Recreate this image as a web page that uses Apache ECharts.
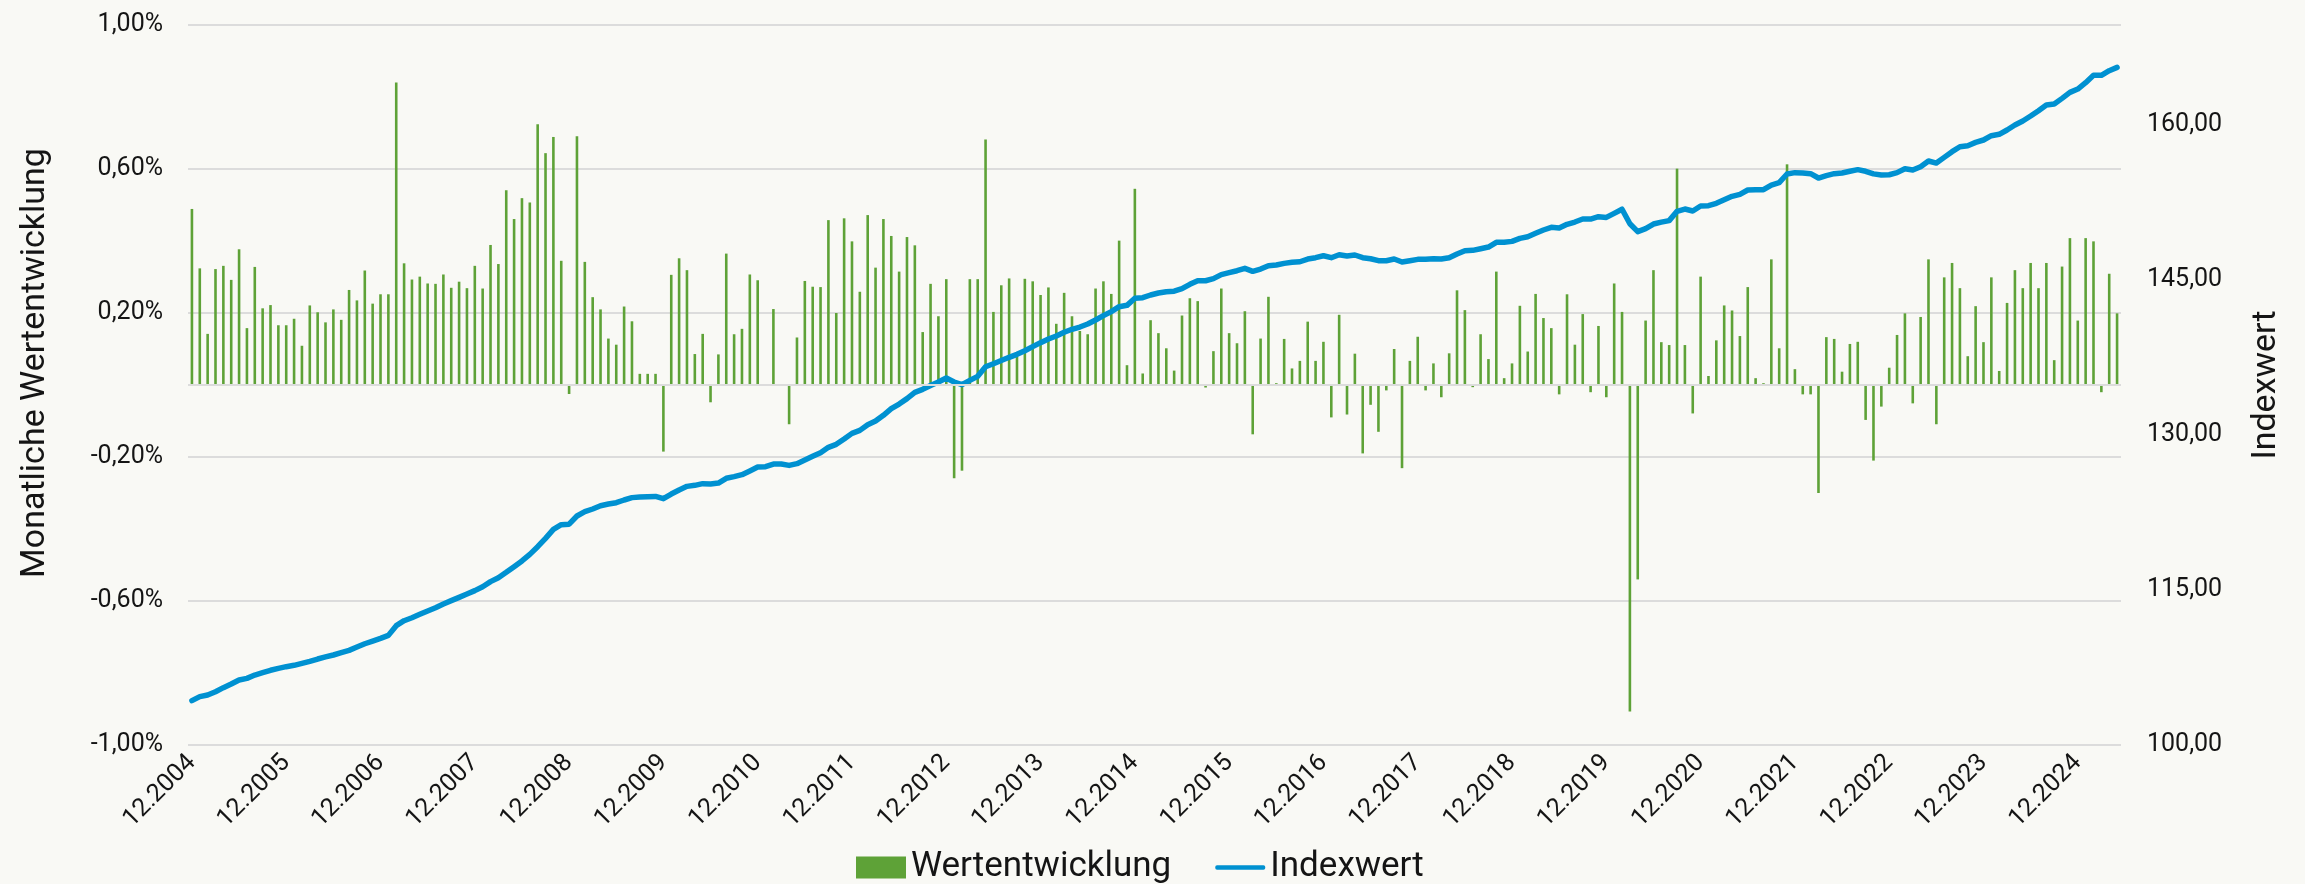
<!DOCTYPE html>
<html>
<head>
<meta charset="utf-8">
<script src="https://cdn.jsdelivr.net/npm/echarts@6/dist/echarts.min.js"></script>
<style>
html,body{margin:0;padding:0;background:#f9f9f5;}
#chart{width:2305px;height:884px;}
</style>
</head>
<body>
<div id="chart"></div>
<script>
// Monthly change in % (bars), Dec 2004 .. May 2025
const monthlyChange = [
0.489,0.324,0.142,0.322,0.331,0.292,0.377,0.158,0.328,0.213,0.222,0.166,
0.166,0.184,0.109,0.221,0.202,0.174,0.210,0.181,0.264,0.235,0.318,0.226,
0.252,0.252,0.840,0.338,0.293,0.301,0.282,0.281,0.307,0.270,0.287,0.269,
0.331,0.268,0.389,0.336,0.541,0.461,0.519,0.507,0.724,0.644,0.689,0.345,
-0.025,0.691,0.342,0.244,0.210,0.129,0.112,0.218,0.177,0.031,0.031,0.031,
-0.185,0.306,0.352,0.319,0.086,0.142,-0.048,0.085,0.365,0.141,0.156,0.307,
0.291,0,0.211,0,-0.109,0.132,0.289,0.273,0.272,0.458,0.200,0.463,
0.399,0.259,0.472,0.326,0.461,0.414,0.315,0.411,0.388,0.147,0.281,0.191,
0.294,-0.259,-0.238,0.294,0.294,0.682,0.203,0.277,0.296,0.080,0.295,0.288,
0.250,0.271,0.170,0.256,0.191,0.150,0.141,0.268,0.288,0.253,0.401,0.055,
0.545,0.032,0.180,0.144,0.102,0.040,0.193,0.241,0.233,-0.007,0.094,0.268,
0.144,0.116,0.205,-0.137,0.129,0.245,0.005,0.128,0.046,0.067,0.176,0.067,
0.120,-0.090,0.195,-0.082,0.087,-0.190,-0.055,-0.130,-0.015,0.100,-0.231,0.067,
0.134,-0.015,0.060,-0.034,0.088,0.263,0.208,-0.006,0.141,0.072,0.315,0.019,
0.060,0.220,0.093,0.253,0.186,0.158,-0.026,0.252,0.112,0.197,-0.020,0.164,
-0.034,0.282,0.203,-0.907,-0.540,0.179,0.319,0.119,0.111,0.601,0.111,-0.079,
0.301,0.025,0.124,0.221,0.207,0.136,0.272,0.019,0.005,0.349,0.102,0.613,
0.044,-0.026,-0.026,-0.300,0.133,0.128,0.037,0.114,0.120,-0.097,-0.210,-0.060,
0.048,0.139,0.199,-0.051,0.189,0.349,-0.109,0.299,0.339,0.269,0.080,0.219,
0.119,0.299,0.039,0.228,0.319,0.269,0.339,0.269,0.339,0.069,0.329,0.408,
0.179,0.408,0.399,-0.020,0.309,0.199
];

// Index value (line)
const indexValue = [
104.29,104.68,104.84,105.16,105.55,105.90,106.29,106.45,106.77,107.00,
107.23,107.42,107.58,107.71,107.90,108.10,108.32,108.52,108.71,108.94,
109.16,109.48,109.80,110.06,110.32,110.61,111.55,112.03,112.32,112.65,
112.97,113.29,113.65,113.97,114.29,114.61,114.94,115.32,115.81,116.19,
116.71,117.26,117.81,118.45,119.19,120.00,120.87,121.32,121.37,122.16,
122.58,122.84,123.16,123.32,123.45,123.71,123.94,124.00,124.03,124.06,
123.84,124.29,124.68,125.03,125.13,125.29,125.26,125.35,125.81,125.97,
126.16,126.52,126.90,126.94,127.19,127.19,127.06,127.23,127.58,127.94,
128.29,128.81,129.10,129.61,130.16,130.45,131.00,131.35,131.91,132.55,
133.00,133.52,134.13,134.42,134.79,135.13,135.52,135.13,134.87,135.28,
135.68,136.61,136.90,137.21,137.52,137.81,138.16,138.55,138.94,139.29,
139.58,139.94,140.23,140.45,140.74,141.13,141.55,141.94,142.42,142.55,
143.23,143.29,143.55,143.74,143.87,143.92,144.16,144.58,144.93,144.93,
145.13,145.52,145.71,145.90,146.13,145.84,146.06,146.39,146.45,146.61,
146.71,146.77,147.03,147.16,147.35,147.16,147.45,147.32,147.42,147.16,
147.06,146.87,146.87,147.03,146.74,146.87,147.00,147.00,147.06,147.03,
147.16,147.52,147.84,147.87,148.03,148.19,148.65,148.65,148.74,149.03,
149.19,149.52,149.84,150.10,150.03,150.39,150.61,150.90,150.90,151.13,
151.06,151.45,151.85,150.45,149.68,149.97,150.42,150.60,150.75,151.65,
151.87,151.68,152.16,152.19,152.42,152.77,153.10,153.29,153.71,153.74,
153.74,154.19,154.42,155.26,155.39,155.36,155.29,154.87,155.10,155.29,
155.36,155.52,155.68,155.52,155.27,155.16,155.19,155.39,155.77,155.65,
155.97,156.52,156.32,156.87,157.42,157.90,158.00,158.32,158.55,158.97,
159.10,159.52,160.00,160.39,160.87,161.39,161.94,162.03,162.58,163.16,
163.48,164.10,164.81,164.81,165.26,165.58
];

// Category labels: months MM.YYYY starting 12.2004
const firstMonth = { year: 2004, month: 12 };
const months = monthlyChange.map(function (_, i) {
  const m0 = firstMonth.month - 1 + i;
  const y = firstMonth.year + Math.floor(m0 / 12);
  const m = (m0 % 12) + 1;
  return (m < 10 ? '0' + m : '' + m) + '.' + y;
});

const seriesNames = ['Wertentwicklung', 'Indexwert'];
const axisTitles = ['Monatliche Wertentwicklung', 'Indexwert'];

const FONT = 'Roboto';
const TXT = '#151515';
const GRID = '#dcdcdc';
const GREEN = '#5ea237';
const BLUE = '#0091d1';

const chart = echarts.init(document.getElementById('chart'), null, { renderer: 'canvas' });
chart.setOption({
  animation: false,
  backgroundColor: '#f9f9f5',
  textStyle: { fontFamily: FONT },
  grid: { left: 188, right: 184, top: 25, bottom: 139, containLabel: false },
  legend: {
    data: [
      { name: seriesNames[0], icon: 'rect' },
      { name: seriesNames[1], icon: 'path://M2,0L53,0A2,2 0 0 1 55,2L55,3A2,2 0 0 1 53,5L2,5A2,2 0 0 1 0,3L0,2A2,2 0 0 1 2,0Z' }
    ],
    left: 856,
    top: 850,
    padding: 0,
    itemWidth: 50,
    itemHeight: 22,
    itemGap: 44,
    symbolKeepAspect: true,
    textStyle: { fontFamily: FONT, fontSize: 35, color: TXT }
  },
  xAxis: {
    type: 'category',
    data: months,
    boundaryGap: true,
    axisLine: { show: false, onZero: false },
    axisTick: { show: false },
    splitLine: { show: false },
    axisLabel: {
      interval: 11,
      rotate: 45,
      margin: 14,
      fontFamily: FONT,
      fontSize: 25,
      color: TXT
    }
  },
  yAxis: [
    {
      type: 'value',
      min: -1,
      max: 1,
      interval: 0.4,
      name: axisTitles[0],
      nameLocation: 'middle',
      nameGap: 136,
      nameTextStyle: { fontFamily: FONT, fontSize: 34, color: TXT, padding: [0, 0, 0, 44] },
      axisLine: { show: false },
      axisTick: { show: false },
      splitLine: { show: true, lineStyle: { color: GRID, width: 2 } },
      axisLabel: {
        margin: 25,
        fontFamily: FONT,
        fontSize: 25,
        color: TXT,
        formatter: function (v) { return v.toFixed(2).replace('.', ',') + '%'; }
      }
    },
    {
      type: 'value',
      min: 100,
      max: 169.68,
      interval: 15,
      position: 'right',
      name: axisTitles[1],
      nameLocation: 'middle',
      nameGap: 128,
      nameTextStyle: { fontFamily: FONT, fontSize: 34, color: TXT },
      axisLine: { show: false },
      axisTick: { show: false },
      splitLine: { show: false },
      axisLabel: {
        margin: 26,
        fontFamily: FONT,
        fontSize: 25,
        color: TXT,
        showMaxLabel: false,
        formatter: function (v) { return v.toFixed(2).replace('.', ','); }
      }
    }
  ],
  series: [
    {
      name: seriesNames[0],
      type: 'bar',
      yAxisIndex: 0,
      data: monthlyChange,
      barWidth: 2.6,
      itemStyle: { color: GREEN },
      markLine: {
        silent: true,
        symbol: 'none',
        label: { show: false },
        lineStyle: { color: GRID, width: 2, type: 'solid' },
        data: [{ yAxis: 0 }]
      },
      z: 2
    },
    {
      name: seriesNames[1],
      type: 'line',
      yAxisIndex: 1,
      data: indexValue,
      symbol: 'none',
      showSymbol: false,
      lineStyle: { color: BLUE, width: 5.5, join: 'round', cap: 'round' },
      itemStyle: { color: BLUE },
      z: 3
    }
  ]
});
</script>
</body>
</html>
